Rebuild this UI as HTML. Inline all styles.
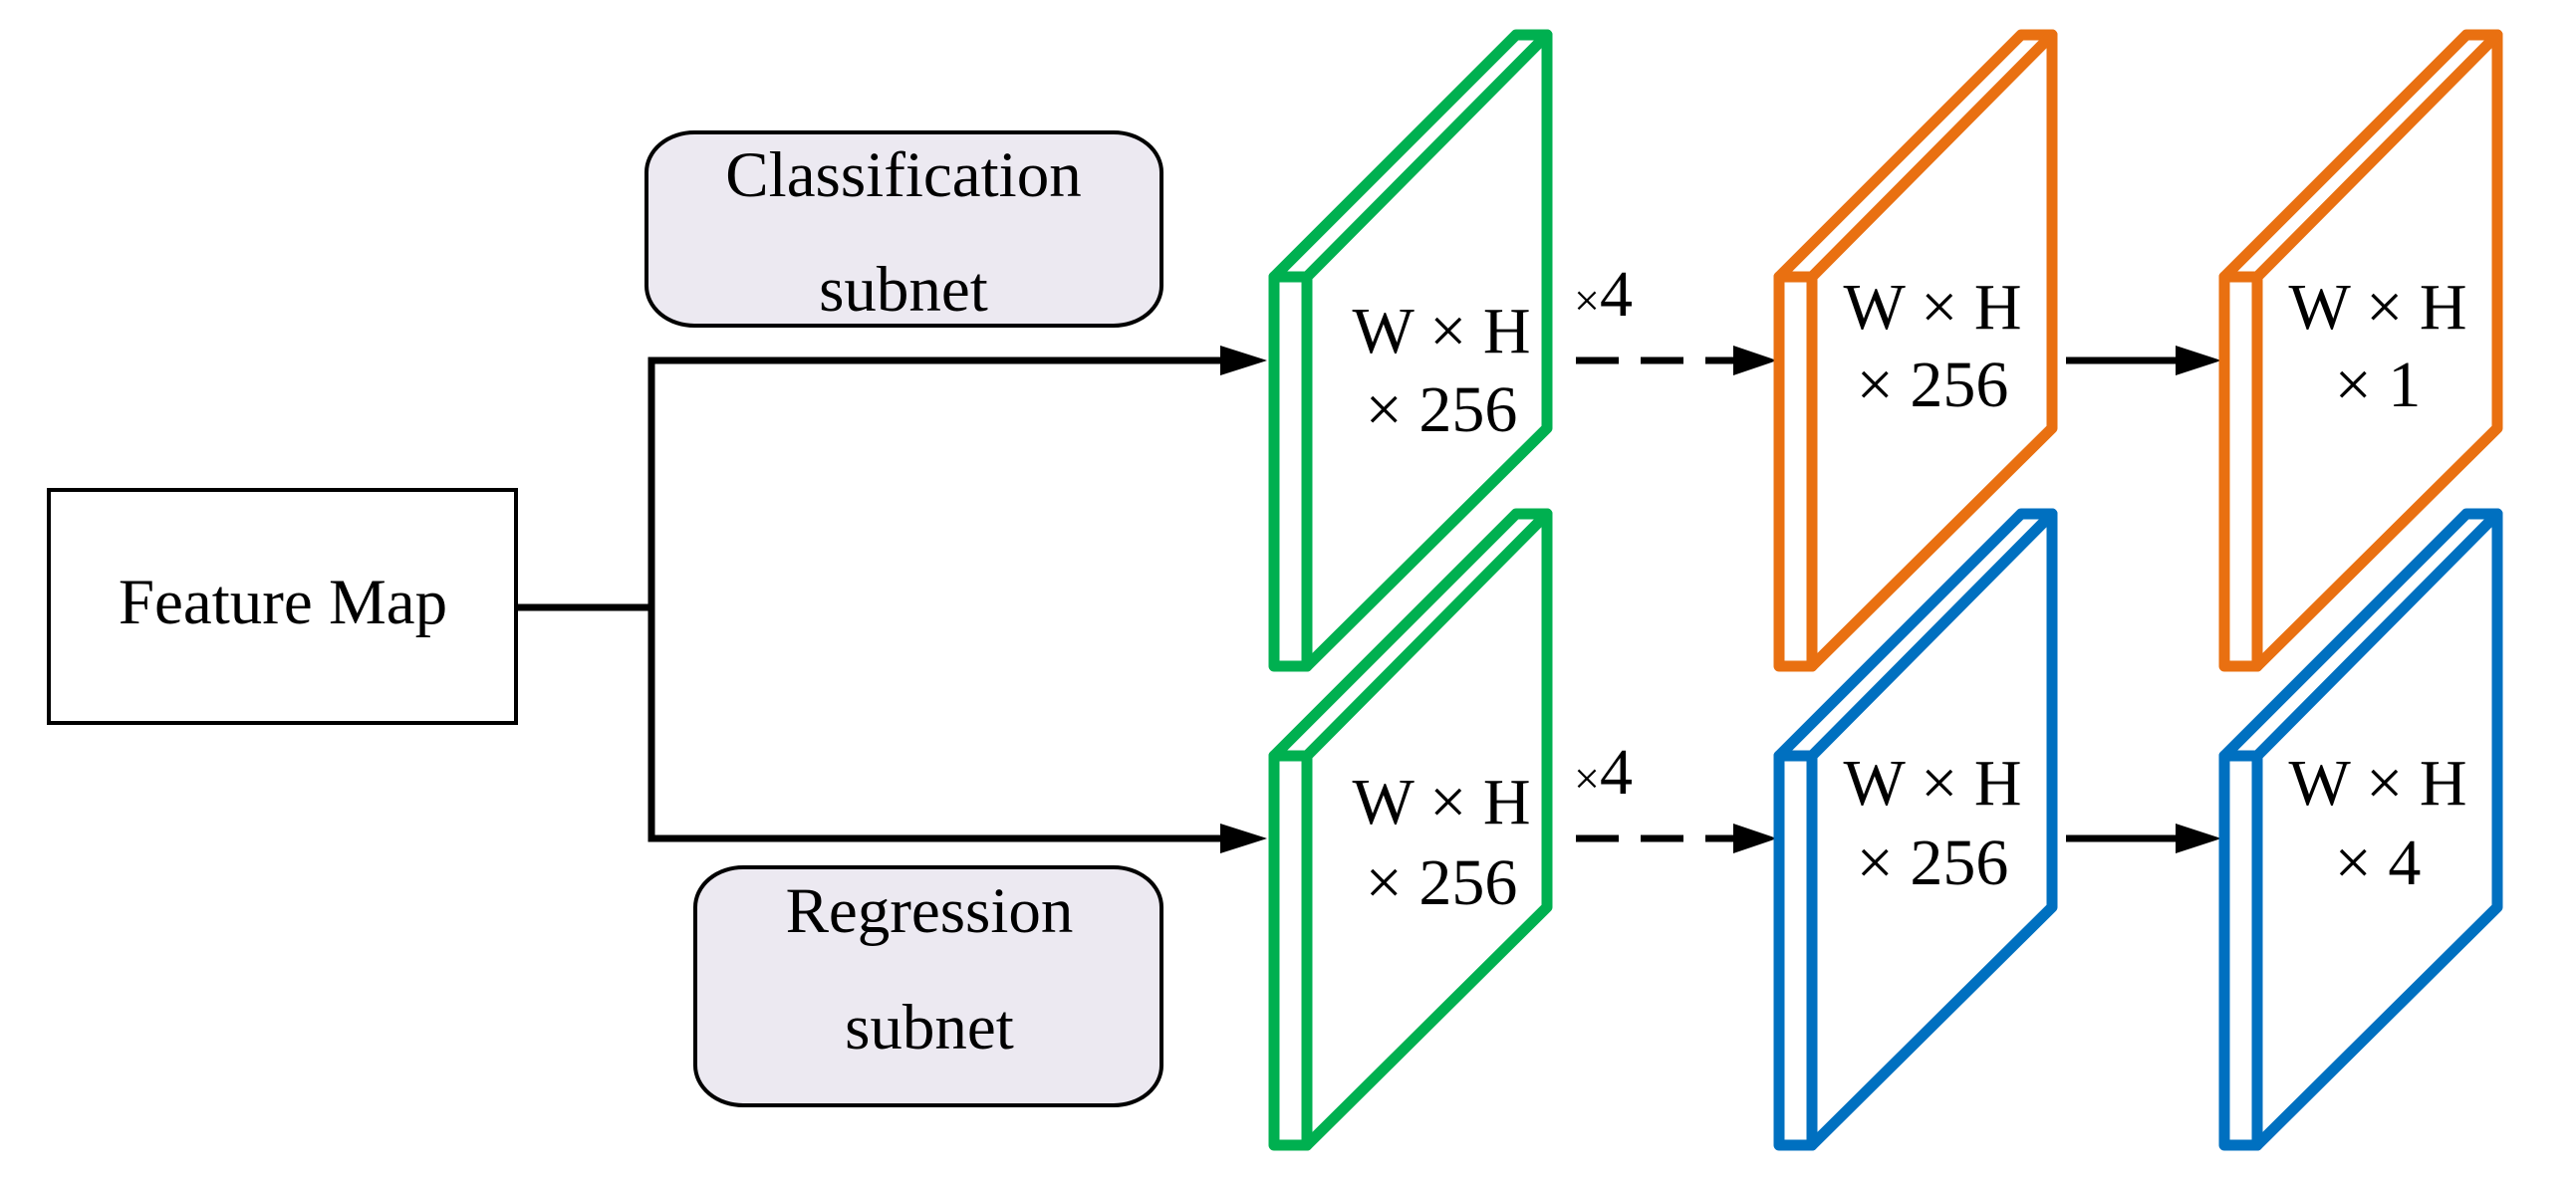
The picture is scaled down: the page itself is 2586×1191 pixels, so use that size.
<!DOCTYPE html>
<html><head><meta charset="utf-8"><style>
html,body{margin:0;padding:0;background:#fff;}
svg{display:block;}
text{font-family:"Liberation Serif",serif;fill:#000;}
</style></head><body>
<svg width="2586" height="1191" viewBox="0 0 2586 1191" xmlns="http://www.w3.org/2000/svg">
<defs>
<g id="prism" fill="none" stroke-width="11" stroke-linejoin="round" stroke-linecap="round">
  <polygon points="0,0 243,-243 274,-243 274,152 33,391 0,391"/>
  <line x1="33" y1="0" x2="274" y2="-243"/>
  <line x1="0" y1="0" x2="33" y2="0"/>
  <line x1="33" y1="0" x2="33" y2="391"/>
</g>
</defs>
<rect width="2586" height="1191" fill="#fff"/>

<rect x="49" y="492" width="469" height="234" fill="#fff" stroke="#000" stroke-width="4"/>
<text x="284" y="626" font-size="65" text-anchor="middle">Feature Map</text>

<rect x="649" y="133" width="517" height="194" rx="48" ry="40" fill="#ece9f1" stroke="#000" stroke-width="4"/>
<text x="907" y="197" font-size="65" text-anchor="middle">Classification</text>
<text x="907" y="312" font-size="65" text-anchor="middle">subnet</text>
<rect x="698" y="871" width="468" height="239" rx="48" ry="40" fill="#ece9f1" stroke="#000" stroke-width="4"/>
<text x="933" y="936" font-size="65" text-anchor="middle">Regression</text>
<text x="933" y="1053" font-size="65" text-anchor="middle">subnet</text>

<g stroke="#000" stroke-width="7" fill="none">
  <line x1="518" y1="610" x2="654" y2="610"/>
  <polyline points="1228,362 654,362 654,842 1228,842"/>
  <line x1="1582" y1="362" x2="1742" y2="362" stroke-dasharray="43 22"/>
  <line x1="1582" y1="842" x2="1742" y2="842" stroke-dasharray="43 22"/>
  <line x1="2074" y1="362" x2="2186" y2="362"/>
  <line x1="2074" y1="842" x2="2186" y2="842"/>
</g>
<g fill="#000">
  <polygon points="1225,347 1272,362 1225,377"/>
  <polygon points="1225,827 1272,842 1225,857"/>
  <polygon points="1740,347 1784,362 1740,377"/>
  <polygon points="1740,827 1784,842 1740,857"/>
  <polygon points="2184,347 2230,362 2184,377"/>
  <polygon points="2184,827 2230,842 2184,857"/>
</g>

<use href="#prism" x="1279" y="278" stroke="#00b050"/>
<use href="#prism" x="1279" y="759" stroke="#00b050"/>
<use href="#prism" x="1786" y="278" stroke="#e97011"/>
<use href="#prism" x="2233" y="278" stroke="#e97011"/>
<use href="#prism" x="1786" y="759" stroke="#0070c0"/>
<use href="#prism" x="2233" y="759" stroke="#0070c0"/>

<g font-size="66" text-anchor="middle">
  <text x="1447" y="354">W × H</text>
  <text x="1447" y="433">× 256</text>
  <text x="1447" y="827">W × H</text>
  <text x="1447" y="908">× 256</text>
  <text x="1940" y="330">W × H</text>
  <text x="1940" y="408">× 256</text>
  <text x="1940" y="808">W × H</text>
  <text x="1940" y="888">× 256</text>
  <text x="2387" y="330">W × H</text>
  <text x="2387" y="408">× 1</text>
  <text x="2387" y="808">W × H</text>
  <text x="2387" y="888">× 4</text>
</g>
<text x="1580" y="317" font-size="66"><tspan font-size="46">×</tspan>4</text>
<text x="1580" y="797" font-size="66"><tspan font-size="46">×</tspan>4</text>
</svg>
</body></html>
